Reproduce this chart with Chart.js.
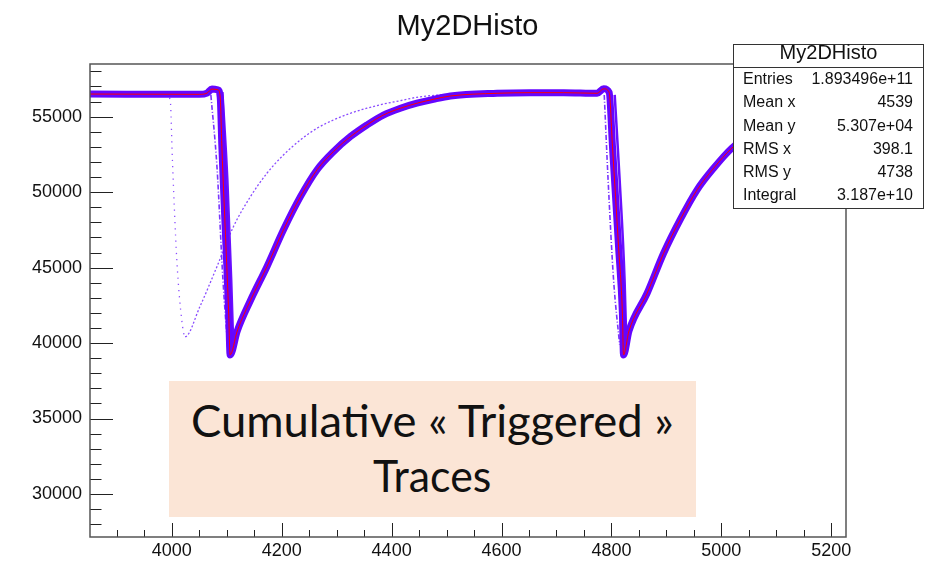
<!DOCTYPE html>
<html>
<head>
<meta charset="utf-8">
<script src="https://cdn.jsdelivr.net/npm/chart.js@4.4.1/dist/chart.umd.min.js"></script>
<style>
html, body { margin: 0; padding: 0; background: #fff; }
#wrap { position: relative; width: 935px; height: 563px; overflow: hidden; }
#c { position: absolute; left: 0; top: 0; }
#title { position: absolute; left: 0; top: 10px; width: 935px; text-align: center;
  font: 29px "Liberation Sans", Arial, sans-serif; line-height: 30px; color: #111; }
#stats { position: absolute; left: 733px; top: 44px; width: 189px; height: 163px;
  border: 1px solid #333; background: #fff; font: 16px "Liberation Sans", Arial, sans-serif; color: #111; }
#stats .head { position: absolute; left: 0; top: -3px; width: 189px; height: 22px;
  text-align: center; font-size: 20px; line-height: 20px; }
#stats .rule { position: absolute; left: 0; top: 22px; width: 189px; border-top: 1px solid #333; }
#stats .row { position: absolute; left: 9px; right: 10px; height: 20px; line-height: 20px; }
#stats .row span:last-child { float: right; }
#note { position: absolute; left: 169px; top: 381px; width: 527px; height: 136px; background: #fbe5d6; }
#note .ln { position: absolute; left: 0; width: 527px; text-align: center; font: 45px Lato, "Open Sans", sans-serif;
  line-height: 54px; color: #111; white-space: nowrap; }
#note .ln span { display: inline-block; transform-origin: 50% 50%; }
</style>
</head>
<body>
<div id="wrap">
  <canvas id="c" width="935" height="563"></canvas>
  <div id="title">My2DHisto</div>
  <div id="stats"></div>
  <div id="note">
    <div class="ln" style="top:12px"><span data-w="483">Cumulative « Triggered »</span></div>
    <div class="ln" style="top:67px"><span data-w="118">Traces</span></div>
  </div>
</div>
<script>
// axis ticks
const xTicks = [4000, 4200, 4400, 4600, 4800, 5000, 5200];
const yTicks = [30000, 35000, 40000, 45000, 50000, 55000];

// centre of the band of cumulated traces (two pulses)
const mainX = [3851, 4050, 4064, 4073, 4084, 4088, 4091, 4098.5, 4103.4, 4106, 4119, 4143, 4173, 4203, 4234,
  4264, 4294, 4325, 4355, 4385, 4416, 4446, 4476, 4507, 4592, 4652, 4713, 4774, 4786, 4796, 4802, 4813, 4820,
  4822, 4832, 4865, 4895, 4925, 4956, 4986, 5019, 5060, 5110, 5160, 5227];
const mainY = [56500, 56480, 56560, 56830, 56780, 56300, 53010, 46390, 41990, 39210, 40800, 42820, 45060, 47490, 49700,
  51470, 52680, 53680, 54450, 55110, 55560, 55890, 56150, 56370, 56550, 56590, 56590, 56550, 56850, 56600, 53010, 46390, 41990,
  39210, 40800, 43300, 45950, 48160, 50150, 51580, 52910, 54000, 55000, 55700, 56200];

// early and late edges of the falling part
const earlyX = [4071, 4082, 4093, 4102, 4450, 4787, 4794, 4804, 4815];
const earlyY = [56440, 51730, 44180, 39540, null, 56440, 50810, 44180, 39880];
const lateX = [4092, 4101, 4108, 4112, 4450, 4806, 4815, 4824, 4827];
const lateY = [56630, 50810, 44180, 39540, null, 56440, 50810, 44180, 40200];

// single early stray trace
const strayX = [3988, 3997, 4001, 4009, 4018, 4024, 4051, 4082, 4112, 4143, 4173, 4203, 4234, 4264, 4294,
  4325, 4355, 4385, 4416, 4446, 4488, 4561];
const strayY = [56500, 56100, 52130, 45510, 41530, 40420, 42410, 45060, 47710, 49700, 51250, 52460, 53460, 54230, 54780,
  55225, 55560, 55840, 56060, 56285, 56440, 56540];

// stats box
const statNames = ["Entries", "Mean x", "Mean y", "RMS x", "RMS y", "Integral"];
const statValues = ["1.893496e+11", "4539", "5.307e+04", "398.1", "4738", "3.187e+10"];

const pts = (xs, ys) => xs.map((x, i) => ({ x: x, y: ys[i] }));

// stats box text
const stats = document.getElementById("stats");
stats.innerHTML = '<div class="head">My2DHisto</div><div class="rule"></div>' +
  statNames.map((n, i) => '<div class="row" style="top:' + (24.2 + 23.2 * i) + 'px"><span>' + n +
    '</span><span>' + statValues[i] + '</span></div>').join("");

// squeeze the note lines to the measured widths
document.querySelectorAll("#note .ln span").forEach(s => {
  const k = +s.dataset.w / s.offsetWidth;
  s.style.transform = "scaleX(" + k + ")";
});

// ROOT-like frame with ticks pointing inwards
const rootFrame = {
  id: "rootFrame",
  afterDraw(chart) {
    const { ctx, chartArea: a, scales } = chart;
    ctx.save();
    ctx.strokeStyle = "#222";
    ctx.lineWidth = 1;
    ctx.beginPath();
    for (let v = 3900; v <= 5227; v += 50) {
      const px = Math.round(scales.x.getPixelForValue(v)) + 0.5;
      const len = v % 200 === 0 ? 14 : 7;
      ctx.moveTo(px, a.bottom);
      ctx.lineTo(px, a.bottom - len);
    }
    for (let v = 28000; v <= 58490; v += 1000) {
      const py = Math.round(scales.y.getPixelForValue(v)) + 0.5;
      const len = v % 5000 === 0 ? 23 : 11.5;
      ctx.moveTo(a.left, py);
      ctx.lineTo(a.left + len, py);
    }
    ctx.stroke();
    ctx.lineWidth = 1.5;
    ctx.strokeStyle = "#555";
    ctx.strokeRect(a.left, a.top, a.right - a.left, a.bottom - a.top);
    ctx.restore();
  }
};

const line = (data, extra) => Object.assign({ data: data, showLine: true, pointRadius: 0, cubicInterpolationMode: "monotone" }, extra);

// first dataset is drawn on top
new Chart(document.getElementById("c"), {
  type: "scatter",
  data: {
    datasets: [
      line(pts(mainX, mainY), { borderWidth: 1, borderColor: "#ff0000" }),
      line(pts(mainX, mainY), { borderWidth: 7, borderColor: "#6505ff" }),
      line(pts(lateX, lateY), { borderWidth: 2.5, borderColor: "#6a10ff" }),
      line(pts(earlyX, earlyY), { borderWidth: 1.6, borderColor: "#7a35ff", borderDash: [5, 2, 1, 2] }),
      line(pts(strayX, strayY), {
        borderWidth: 1.3, borderColor: "#8a4dff",
        segment: { borderDash: c => c.p0DataIndex < 5 ? [1.2, 5] : [2, 2] }
      })
    ]
  },
  options: {
    responsive: false,
    animation: false,
    events: [],
    layout: { padding: { top: 64, right: 89, left: 0, bottom: 0 } },
    plugins: { legend: { display: false }, tooltip: { enabled: false } },
    scales: {
      x: {
        type: "linear", min: 3851, max: 5227,
        afterBuildTicks: s => { s.ticks = xTicks.map(v => ({ value: v })); },
        afterFit: s => { s.height = 26; },
        grid: { display: false, drawTicks: false }, border: { display: false },
        ticks: { font: { family: "Liberation Sans", size: 18 }, color: "#111", padding: 3, maxRotation: 0, autoSkip: false, callback: v => String(v) }
      },
      y: {
        type: "linear", min: 27150, max: 58490,
        afterBuildTicks: s => { s.ticks = yTicks.map(v => ({ value: v })); },
        afterFit: s => { s.width = 90; },
        grid: { display: false, drawTicks: false }, border: { display: false },
        ticks: { font: { family: "Liberation Sans", size: 18 }, color: "#111", padding: 8, autoSkip: false, callback: v => String(v) }
      }
    }
  },
  plugins: [rootFrame]
});
</script>
</body>
</html>
